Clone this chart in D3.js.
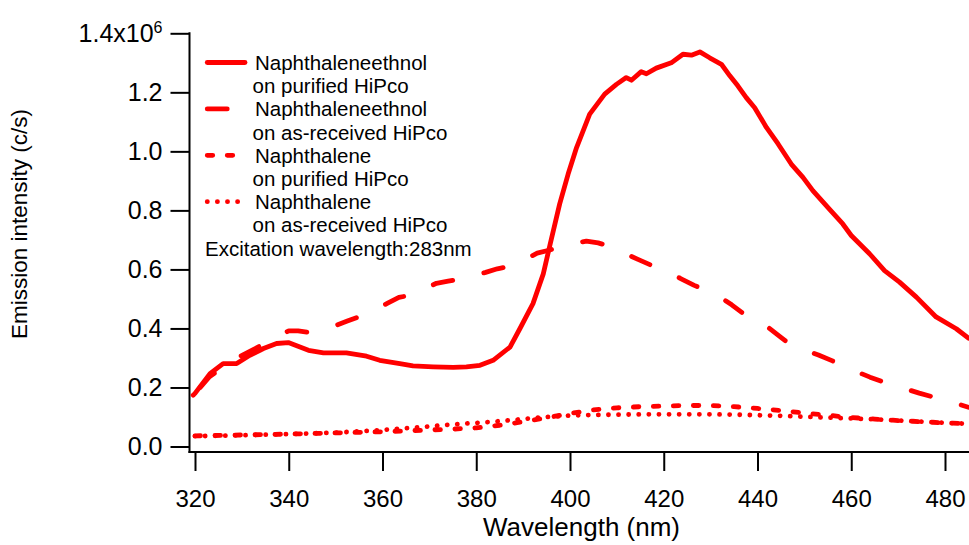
<!DOCTYPE html>
<html>
<head>
<meta charset="utf-8">
<script src="https://cdn.jsdelivr.net/npm/d3@7"></script>
<style>
  body { margin: 0; background: #fff; }
  svg text { font-family: "Liberation Sans", Arial, Helvetica, sans-serif; fill: #000; }
</style>
</head>
<body>
<svg id="chart"></svg>
<script>
// wavelength (nm), intensity (c/s)
var naphEthPurified = [
  [319.6,0.174e6],[320,0.180e6],[323.2,0.247e6],[326,0.281e6],[328.9,0.281e6],[331.7,0.309e6],
  [334.6,0.332e6],[337.4,0.349e6],[339.9,0.352e6],[344.2,0.326e6],[347.4,0.317e6],[352.3,0.317e6],
  [356.6,0.306e6],[359.4,0.292e6],[363.7,0.281e6],[366.5,0.273e6],[370.8,0.270e6],[375.1,0.268e6],
  [377.9,0.270e6],[380.8,0.275e6],[383.6,0.292e6],[387.2,0.337e6],[389.3,0.399e6],[392.1,0.484e6],
  [394.3,0.585e6],[395.7,0.681e6],[397.8,0.822e6],[399.6,0.923e6],[401.4,1.013e6],[404.2,1.126e6],
  [407.4,1.194e6],[409.9,1.227e6],[412.0,1.250e6],[413.1,1.241e6],[415.2,1.270e6],[416.3,1.263e6],
  [418.4,1.282e6],[421.6,1.300e6],[424.1,1.329e6],[425.9,1.326e6],[427.7,1.337e6],[429.8,1.317e6],
  [432.3,1.295e6],[434.1,1.256e6],[435.8,1.222e6],[437.6,1.182e6],[439.4,1.148e6],[441.9,1.081e6],
  [444.4,1.025e6],[447.2,0.957e6],[449.7,0.912e6],[451.8,0.867e6],[455.0,0.810e6],[458.2,0.754e6],
  [460.0,0.715e6],[463.9,0.653e6],[467.1,0.596e6],[470.3,0.557e6],[473.9,0.506e6],[478.1,0.439e6],
  [482.4,0.399e6],[485.0,0.367e6]
];

var naphEthAsReceived = [
  [320,0.18e6],[323,0.235e6],[326,0.27e6],[329,0.30e6],[332,0.325e6],[335,0.35e6],[338,0.375e6],
  [340,0.392e6],[342,0.392e6],[344.5,0.386e6],[347,0.395e6],[350,0.41e6],[352.5,0.425e6],[355,0.44e6],
  [358,0.46e6],[361,0.485e6],[363.5,0.505e6],[366,0.513e6],[369,0.535e6],[371.5,0.553e6],[374,0.56e6],
  [376,0.566e6],[379,0.578e6],[382,0.59e6],[384.5,0.602e6],[387,0.61e6],[390,0.63e6],[393,0.655e6],
  [395.5,0.665e6],[398,0.676e6],[401,0.688e6],[403.5,0.696e6],[406,0.69e6],[408.5,0.678e6],
  [411.5,0.655e6],[414.5,0.634e6],[417.5,0.613e6],[420.5,0.592e6],[423.5,0.57e6],[426.5,0.546e6],
  [429,0.53e6],[431.5,0.512e6],[434.5,0.48e6],[437.5,0.444e6],[440,0.425e6],[442,0.407e6],
  [445,0.37e6],[447,0.345e6],[450,0.327e6],[453,0.31e6],[456,0.29e6],[459,0.27e6],[462,0.248e6],
  [464,0.235e6],[467,0.218e6],[469.5,0.204e6],[472,0.193e6],[474.5,0.181e6],[477,0.17e6],
  [480,0.157e6],[482.5,0.145e6],[485,0.133e6]
];

var naphPurified = [
  [320,0.036e6],[330,0.039e6],[340,0.042e6],[350,0.046e6],[360,0.050e6],[365,0.053e6],[370,0.056e6],
  [375,0.059e6],[380,0.063e6],[385,0.072e6],[390,0.084e6],[395,0.097e6],[400,0.112e6],[405,0.124e6],
  [410,0.131e6],[415,0.135e6],[420,0.137e6],[425,0.139e6],[430,0.139e6],[435,0.135e6],[440,0.129e6],
  [445,0.122e6],[450,0.113e6],[455,0.106e6],[460,0.098e6],[465,0.093e6],[470,0.088e6],[475,0.084e6],
  [480,0.080e6],[485,0.077e6]
];

var naphAsReceived = [
  [320,0.035e6],[330,0.038e6],[340,0.042e6],[350,0.047e6],[360,0.056e6],[365,0.062e6],[370,0.068e6],
  [375,0.075e6],[380,0.080e6],[385,0.086e6],[390,0.093e6],[395,0.100e6],[400,0.105e6],[405,0.107e6],
  [410,0.108e6],[415,0.109e6],[420,0.109e6],[425,0.109e6],[430,0.109e6],[435,0.108e6],[440,0.106e6],
  [445,0.104e6],[450,0.101e6],[455,0.098e6],[460,0.095e6],[465,0.092e6],[470,0.088e6],[475,0.084e6],
  [480,0.080e6],[485,0.077e6]
];

var xTicks = [320, 340, 360, 380, 400, 420, 440, 460, 480];
var yTicks = [0, 0.2e6, 0.4e6, 0.6e6, 0.8e6, 1.0e6, 1.2e6, 1.4e6];

var legendLabels = [
  ["Naphthaleneethnol", "on purified HiPco"],
  ["Naphthaleneethnol", "on as-received HiPco"],
  ["Naphthalene", "on purified HiPco"],
  ["Naphthalene", "on as-received HiPco"]
];
var note = "Excitation wavelength:283nm";

var width = 969,
    height = 545;

var series = [
  { data: naphEthPurified,   dash: null,        offset: 0 },
  { data: naphEthAsReceived, dash: "20,32",     offset: -8 },
  { data: naphPurified,      dash: "5.5,14.5",  offset: 0 },
  { data: naphAsReceived,    dash: "0.1,10",    offset: 0 }
];

var svg = d3.select('#chart')
    .attr('width', width)
    .attr('height', height);

var x = d3.scaleLinear().domain([320, 480]).range([195, 945]);
var y = d3.scaleLinear().domain([0, 1.4e6]).range([446.5, 33.3]);

var axisX = 189.5,
    axisY = 452;

// y axis
var gy = svg.append('g')
    .attr('transform', 'translate(' + axisX + ',0)')
    .call(d3.axisLeft(y)
        .tickValues(yTicks)
        .tickSize(19)
        .tickSizeOuter(0)
        .tickPadding(8)
        .tickFormat(function(d) { return (d / 1e6).toFixed(1); }));
gy.select('.domain').remove();
gy.selectAll('.tick line').attr('stroke', '#000').attr('stroke-width', 2);
gy.selectAll('.tick text').style('font-size', '25px');
gy.selectAll('.tick text')
    .filter(function(d) { return d === 1.4e6; })
    .text(null)
    .call(function(t) {
      t.append('tspan').text('1.4x10');
      t.append('tspan').attr('dy', '-0.55em').style('font-size', '16px').text('6');
    });

// x axis
var gx = svg.append('g')
    .attr('transform', 'translate(0,' + axisY + ')')
    .call(d3.axisBottom(x)
        .tickValues(xTicks)
        .tickSize(19)
        .tickSizeOuter(0)
        .tickPadding(19)
        .tickFormat(d3.format('d')));
gx.select('.domain').remove();
gx.selectAll('.tick line').attr('stroke', '#000').attr('stroke-width', 2);
gx.selectAll('.tick text').style('font-size', '24px');

// spines
svg.append('line')
    .attr('x1', axisX).attr('x2', axisX)
    .attr('y1', y(1.4e6) - 1).attr('y2', axisY + 1)
    .attr('stroke', '#000').attr('stroke-width', 2);
svg.append('line')
    .attr('x1', axisX - 1).attr('x2', width)
    .attr('y1', axisY).attr('y2', axisY)
    .attr('stroke', '#000').attr('stroke-width', 2);

// axis titles
svg.append('text')
    .attr('transform', 'translate(27,' + 224 + ') rotate(-90)')
    .attr('text-anchor', 'middle')
    .style('font-size', '22.5px')
    .text('Emission intensity (c/s)');

svg.append('text')
    .attr('x', 581.5)
    .attr('y', 536)
    .attr('text-anchor', 'middle')
    .style('font-size', '26px')
    .text('Wavelength (nm)');

// curves
var line = d3.line()
    .x(function(d) { return x(d[0]); })
    .y(function(d) { return y(d[1]); });

series.forEach(function(s) {
  svg.append('path')
      .datum(s.data)
      .attr('d', line)
      .attr('fill', 'none')
      .attr('stroke', '#ff0000')
      .attr('stroke-width', 4.8)
      .attr('stroke-linecap', 'round')
      .attr('stroke-linejoin', 'round')
      .attr('stroke-dasharray', s.dash)
      .attr('stroke-dashoffset', s.offset);
});

// legend
var lg = svg.append('g');
var rowH = 23.2,
    firstBase = 70;

legendLabels.forEach(function(lab, i) {
  var base = firstBase + i * 2 * rowH;
  lg.append('line')
      .attr('x1', 207.25).attr('x2', 245)
      .attr('y1', base - 7.5).attr('y2', base - 7.5)
      .attr('stroke', '#ff0000')
      .attr('stroke-width', 4.8)
      .attr('stroke-linecap', 'round')
      .attr('stroke-dasharray', series[i].dash);
  lg.append('text')
      .attr('x', 255).attr('y', base)
      .style('font-size', '20.5px')
      .text(lab[0]);
  lg.append('text')
      .attr('x', 252.5).attr('y', base + rowH)
      .style('font-size', '20.5px')
      .text(lab[1]);
});

lg.append('text')
    .attr('x', 205).attr('y', firstBase + 8 * rowH)
    .style('font-size', '20.5px')
    .text(note);
</script>
</body>
</html>
